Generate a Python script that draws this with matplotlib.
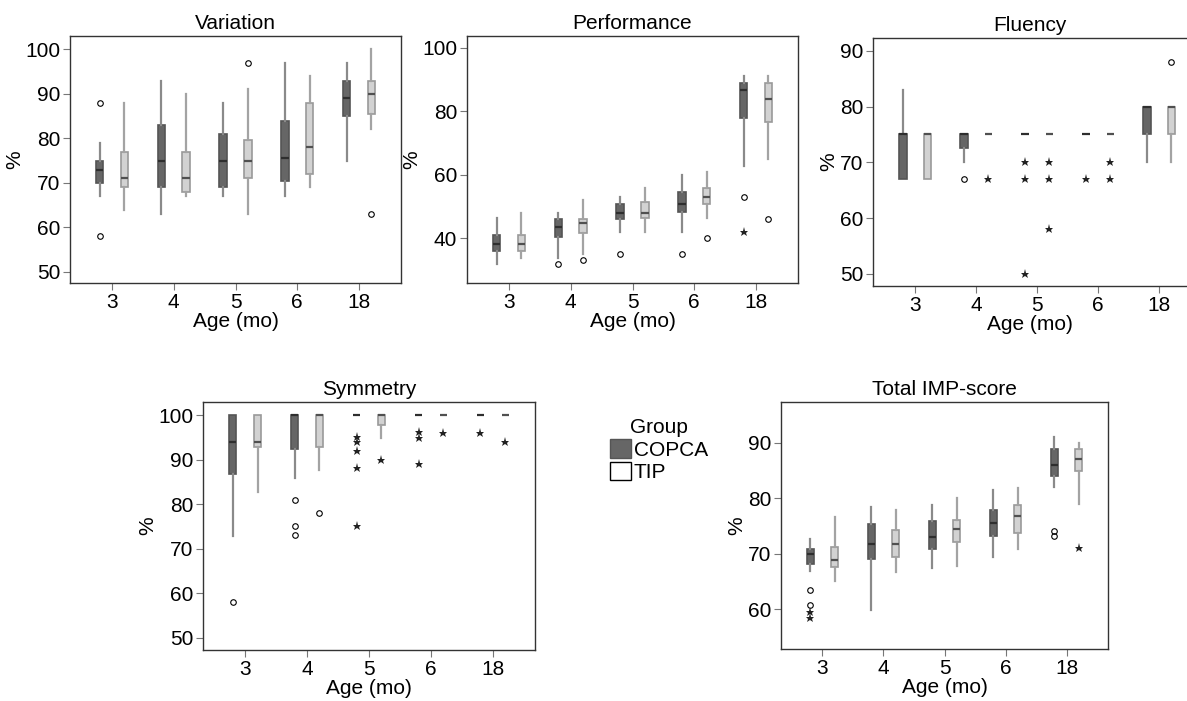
import matplotlib
matplotlib.use("Agg")
import matplotlib.pyplot as plt
from matplotlib.patches import Patch

plt.rcParams['font.family'] = ['Liberation Sans', 'DejaVu Sans']

# Dados: [whisker baixo, Q1, mediana, Q3, whisker alto] por idade
ages = ['3', '4', '5', '6', '18']

var_copca = [[67, 70, 72.9, 75, 79], [63, 69, 75, 83, 93], [67, 69, 75, 81, 88],
             [67, 70.4, 75.6, 84, 97], [75, 85, 89, 93, 97]]
var_copca_out = [[88, 58], [], [], [], []]
var_copca_ext = [[], [], [], [], []]
var_tip = [[64, 69, 71, 77, 88], [67, 68, 71, 77, 90], [63, 71, 75, 79.6, 91],
           [69, 72, 78, 88, 94], [82, 85.5, 90, 93, 100]]
var_tip_out = [[], [], [97], [], [63]]
var_tip_ext = [[], [], [], [], []]

perf_copca = [[32, 36.1, 38.2, 41, 46.3], [34, 40.5, 43.7, 46, 48], [42, 46, 48, 50.8, 53],
              [42, 48.3, 51, 54.5, 60], [62.8, 77.8, 86.7, 88.8, 91]]
perf_copca_out = [[], [32], [35], [35], [53]]
perf_copca_ext = [[], [], [], [], [42]]
perf_tip = [[34, 36.1, 38.2, 41, 48], [35, 41.6, 45, 46, 52], [42, 46.5, 48, 51.5, 56],
            [46.6, 50.8, 53, 56, 61], [65, 76.7, 83.8, 88.8, 91]]
perf_tip_out = [[], [33.2], [], [40], [46]]
perf_tip_ext = [[], [], [], [], []]

flu_copca = [[67, 67, 75, 75, 83], [70, 72.5, 75, 75, 75], [75, 75, 75, 75, 75],
             [75, 75, 75, 75, 75], [70, 75, 80, 80, 80]]
flu_copca_out = [[], [67], [], [], []]
flu_copca_ext = [[], [], [70, 67, 50], [67], []]
flu_tip = [[67, 67, 75, 75, 75], [75, 75, 75, 75, 75], [75, 75, 75, 75, 75],
           [75, 75, 75, 75, 75], [70, 75, 80, 80, 80]]
flu_tip_out = [[], [], [], [], [88]]
flu_tip_ext = [[], [67], [70, 67, 58], [70, 67], []]

sym_copca = [[72.8, 86.8, 93.9, 100, 100], [86, 92.4, 100, 100, 100], [100, 100, 100, 100, 100],
             [100, 100, 100, 100, 100], [100, 100, 100, 100, 100]]
sym_copca_out = [[58], [81, 75, 73], [], [], []]
sym_copca_ext = [[], [], [95.1, 93.9, 92, 88.2, 75], [96.3, 94.8, 89], [96]]
sym_tip = [[82.7, 92.8, 93.9, 100, 100], [87.8, 92.8, 100, 100, 100], [94.8, 97.8, 100, 100, 100],
           [100, 100, 100, 100, 100], [100, 100, 100, 100, 100]]
sym_tip_out = [[], [78], [], [], []]
sym_tip_ext = [[], [], [90], [96], [94]]

tot_copca = [[66.9, 68.2, 70, 70.9, 72.6], [59.8, 69, 71.7, 75.3, 78.4], [67.4, 70.9, 72.9, 75.8, 78.7],
             [69.4, 73.2, 75.5, 77.8, 81.5], [82, 83.9, 86, 88.9, 91]]
tot_copca_out = [[63.4, 60.8], [], [], [], [74.1, 73.1]]
tot_copca_ext = [[59.4, 58.4], [], [], [], []]
tot_tip = [[65, 67.6, 68.9, 71.1, 76.5], [66.6, 69.3, 71.7, 74.3, 77.8], [67.7, 72, 74.4, 76, 80],
           [70.8, 73.7, 76.7, 78.7, 81.8], [78.9, 84.9, 87, 88.9, 90]]
tot_tip_out = [[], [], [], [], []]
tot_tip_ext = [[], [], [], [], [71]]

estilos = {
    'COPCA': dict(face='#666666', edge='#555555', whisk='#8a8a8a', med='#2e2e2e', off=-0.2),
    'TIP': dict(face='#d2d2d2', edge='#999999', whisk='#a3a3a3', med='#505050', off=0.2),
}


def desenha_grupo(ax, dados, circulos, estrelas, grupo):
    st = estilos[grupo]
    stats = []
    for lo, q1, med, q3, hi in dados:
        stats.append(dict(whislo=lo, q1=q1, med=med, q3=q3, whishi=hi, fliers=[]))
    pos = [i + st['off'] for i in range(len(dados))]
    ax.bxp(stats, positions=pos, widths=0.12, showcaps=False, showfliers=False,
           patch_artist=True,
           boxprops=dict(facecolor=st['face'], edgecolor=st['edge'], linewidth=1.2),
           whiskerprops=dict(color=st['whisk'], linewidth=1.6),
           medianprops=dict(color=st['med'], linewidth=1.6))
    for i, vals in enumerate(circulos):
        if vals:
            ax.plot([pos[i]] * len(vals), vals, 'o', mfc='none', mec='black', ms=4, mew=0.8)
    for i, vals in enumerate(estrelas):
        if vals:
            ax.plot([pos[i]] * len(vals), vals, '*', color='#222222', ms=6.5, mew=0)


def painel(rect, titulo, copca, tip, ylim, yticks, xlim=(-0.68, 4.68), spine_dir=True):
    ax = fig.add_axes(rect)
    desenha_grupo(ax, *copca, 'COPCA')
    desenha_grupo(ax, *tip, 'TIP')
    ax.set_xlim(*xlim)
    ax.set_ylim(*ylim)
    ax.set_yticks(yticks)
    ax.set_xticks(range(len(ages)))
    ax.set_xticklabels(ages)
    ax.set_title(titulo, fontsize=15, pad=5)
    ax.set_xlabel('Age (mo)', fontsize=15, labelpad=0)
    ax.set_ylabel('%', fontsize=15, labelpad=1)
    ax.tick_params(labelsize=15, length=5, color='#777777', pad=2)
    for s in ax.spines.values():
        s.set_color('#333333')
        s.set_linewidth(1)
    if not spine_dir:
        ax.spines['right'].set_visible(False)
    return ax


W, H = 1187, 701
fig = plt.figure(figsize=(W / 100, H / 100), dpi=100)


def r(l, t, rt, b):
    return [l / W, (H - b) / H, (rt - l) / W, (b - t) / H]


painel(r(70, 36, 401, 283), 'Variation',
       (var_copca, var_copca_out, var_copca_ext), (var_tip, var_tip_out, var_tip_ext),
       (47.5, 103), [50, 60, 70, 80, 90, 100])
painel(r(467, 36, 798, 283), 'Performance',
       (perf_copca, perf_copca_out, perf_copca_ext), (perf_tip, perf_tip_out, perf_tip_ext),
       (26, 103.7), [40, 60, 80, 100])
painel(r(873, 38, 1186, 286), 'Fluency',
       (flu_copca, flu_copca_out, flu_copca_ext), (flu_tip, flu_tip_out, flu_tip_ext),
       (47.8, 92.3), [50, 60, 70, 80, 90], xlim=(-0.69, 4.44), spine_dir=False)
painel(r(203, 402, 535, 650), 'Symmetry',
       (sym_copca, sym_copca_out, sym_copca_ext), (sym_tip, sym_tip_out, sym_tip_ext),
       (47.2, 103), [50, 60, 70, 80, 90, 100])
painel(r(781, 402, 1108, 649), 'Total IMP-score',
       (tot_copca, tot_copca_out, tot_copca_ext), (tot_tip, tot_tip_out, tot_tip_ext),
       (52.8, 97.3), [60, 70, 80, 90])

handles = [Patch(facecolor='#666666', edgecolor='#555555', label='COPCA'),
           Patch(facecolor='white', edgecolor='black', label='TIP')]
fig.legend(handles=handles, title='Group', loc='upper left', bbox_to_anchor=(610 / W, 1 - 418 / H),
           frameon=False, fontsize=15, title_fontsize=15, handlelength=1.0, handleheight=1.0,
           handletextpad=0.15, labelspacing=0.1, borderpad=0, borderaxespad=0)

fig.savefig('out.png', dpi=100)
